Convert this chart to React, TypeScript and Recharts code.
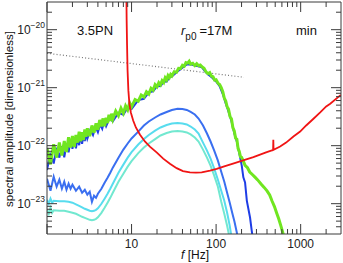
import React from "react";
import { Line, LineChart, XAxis, YAxis } from "recharts";

// frequencies [Hz] and spectral amplitudes
const GREEN_F = [
  1.0, 1.1, 1.2, 1.3, 1.4, 1.5, 1.6, 1.7, 1.8, 1.9, 2.0, 2.1, 2.2, 2.3, 2.4, 2.5, 2.6, 2.7, 2.8, 2.9, 3.0,
  3.2, 3.4, 3.6, 3.8, 4.0, 4.2, 4.4, 4.6, 4.8, 5.0, 5.2, 5.4, 5.6, 5.8, 6.0,
  6.5, 7, 7.5, 8, 8.5, 9, 9.5, 10,
  11, 12, 13, 14, 15, 16, 17, 18, 19, 20, 21, 22, 23, 24, 25, 26, 27, 28, 29, 30,
  32, 34, 36, 38, 40, 42, 44, 46, 48, 50, 53, 56, 59, 62, 65, 68,
  72, 76, 80, 84, 88, 92, 96, 100, 105, 110, 115, 120, 125, 130, 135, 140, 146, 152, 158, 164, 170, 176,
  182, 188, 194, 200, 210, 220, 235, 250, 270, 290, 310, 340, 370, 400, 430, 460, 490, 520, 550, 580, 610, 640,
];
const GREEN_A = [
  9.12e-23, 4.76e-23, 1.054e-22, 6.24e-23, 1.13e-22, 6.79e-23, 1.2e-22, 7.8e-23, 1.4e-22, 9.27e-23, 1.47e-22,
  9.46e-23, 1.53e-22, 1.13e-22, 1.74e-22, 1.19e-22, 1.71e-22, 1.25e-22, 1.91e-22, 1.43e-22, 1.99e-22,
  1.46e-22, 2.23e-22, 1.67e-22, 2.42e-22, 1.88e-22, 2.77e-22, 2.15e-22, 2.95e-22, 2.17e-22, 3.04e-22, 2.45e-22,
  3.42e-22, 2.68e-22, 3.56e-22, 2.86e-22,
  3.96e-22, 3.29e-22, 4.42e-22, 3.64e-22, 4.84e-22, 4.15e-22, 5.48e-22, 4.68e-22,
  6.24e-22, 5.83e-22, 7.46e-22, 6.89e-22, 8.51e-22, 7.76e-22, 9.75e-22, 9.04e-22, 1.125e-21, 1.035e-21,
  1.22e-21, 1.12e-21, 1.32e-21, 1.23e-21, 1.48e-21, 1.37e-21, 1.61e-21, 1.49e-21, 1.69e-21, 1.6e-21,
  1.89e-21, 1.85e-21, 2.16e-21, 2.14e-21, 2.43e-21, 2.34e-21, 2.7e-21, 2.65e-21, 2.85e-21, 2.54e-21, 2.63e-21,
  2.4e-21, 2.59e-21, 2.39e-21, 2.45e-21, 2.29e-21,
  2.16e-21, 1.87e-21, 1.74e-21, 1.82e-21, 1.58e-21, 1.54e-21, 1.35e-21, 1.37e-21, 1.2e-21, 1.135e-21, 1.0e-21,
  8.51e-22, 6.61e-22, 5.89e-22, 4.68e-22, 4.27e-22, 3.2e-22, 2.88e-22, 2.04e-22, 1.8e-22, 1.35e-22, 1.29e-22,
  8.91e-23, 7.94e-23, 6.46e-23, 6.31e-23, 5.41e-23, 4.57e-23, 4.17e-23, 3.52e-23, 3.16e-23, 2.84e-23, 2.57e-23,
  2.19e-23, 1.91e-23, 1.66e-23, 1.41e-23, 1.1e-23, 8.91e-24, 6.92e-24, 5.5e-24, 4.27e-24, 3.31e-24, 2.51e-24,
];

const DARK_F = [
  1.0, 1.1, 1.2, 1.3, 1.4, 1.5, 1.6, 1.7, 1.8, 1.9, 2.0, 2.1, 2.2, 2.3, 2.4, 2.5, 2.6, 2.7, 2.8, 2.9, 3.0,
  3.25, 3.5, 3.75, 4.0, 4.25, 4.5, 4.75, 5.0, 5.5, 6.0,
  7, 8, 9, 10,
  12, 14, 16, 18, 20, 22, 24, 26, 28, 30,
  35, 40, 45, 50, 56, 62, 68, 74, 80, 90, 100, 110, 120, 130, 140, 152, 164, 176, 188,
  201, 210, 220, 231, 252, 264, 274,
];
const DARK_A = [
  3.8e-23, 7.55e-23, 4.93e-23, 9.23e-23, 6.22e-23, 9.82e-23, 6.28e-23, 1.05e-22, 7.67e-23, 1.25e-22, 8.85e-23,
  1.31e-22, 9.02e-23, 1.36e-22, 1.02e-22, 1.5e-22, 1.08e-22, 1.54e-22, 1.2e-22, 1.68e-22, 1.32e-22,
  1.87e-22, 1.52e-22, 2.13e-22, 1.71e-22, 2.33e-22, 1.95e-22, 2.65e-22, 2.15e-22, 2.96e-22, 2.61e-22,
  3.69e-22, 3.4e-22, 4.55e-22, 4.27e-22,
  6.11e-22, 6.43e-22, 8.32e-22, 8.63e-22, 1.06e-21, 1.07e-21, 1.26e-21, 1.28e-21, 1.49e-21, 1.57e-21,
  1.91e-21, 2.21e-21, 2.52e-21, 2.54e-21, 2.4e-21, 2.33e-21, 2.24e-21, 1.91e-21, 1.7e-21, 1.48e-21, 1.28e-21,
  1.06e-21, 7.76e-22, 5.37e-22, 3.89e-22, 2.63e-22, 1.64e-22, 1.17e-22, 7.41e-23,
  4.53e-23, 2.84e-23, 2.33e-23, 1.12e-23, 5.77e-24, 3.4e-24, 2.28e-24,
];

const BLUE_F = [
  1.0, 1.1, 1.2, 1.3, 1.4, 1.5, 1.6, 1.7, 1.8, 1.9, 2.0, 2.2, 2.4, 2.6, 2.8, 3.0, 3.2, 3.4, 3.6, 3.8, 4.0,
  4.4, 4.8, 5.2, 5.6, 6.0, 7, 8, 9, 10, 12, 14, 16, 19, 22, 26, 30,
  35, 40, 45, 50, 56, 62, 70, 78, 86, 95, 105, 115, 125, 135, 145, 155, 165, 175, 180,
];
const BLUE_A = [
  2.7e-23, 1.67e-23, 2.92e-23, 1.96e-23, 2.59e-23, 1.81e-23, 2.39e-23, 1.74e-23, 2.21e-23, 1.81e-23, 2.12e-23,
  1.67e-23, 1.96e-23, 1.54e-23, 1.74e-23, 1.43e-23, 1.61e-23, 1.08e-23, 1.37e-23, 1.26e-23, 1.48e-23,
  1.81e-23, 2.3e-23, 2.81e-23, 3.42e-23, 4.18e-23, 6.22e-23, 8.56e-23, 1.09e-22, 1.33e-22,
  1.75e-22, 2.23e-22, 2.61e-22, 3.06e-22, 3.45e-22, 3.81e-22, 4.13e-22,
  4.33e-22, 4.3e-22, 4.13e-22, 3.81e-22, 3.45e-22, 2.94e-22, 2.23e-22, 1.62e-22, 1.18e-22, 8.23e-23,
  5.52e-23, 3.56e-23, 2.39e-23, 1.54e-23, 1.04e-23, 6.96e-24, 4.86e-24, 3.27e-24, 2.68e-24,
];

const CYAN_F = [
  1.0, 1.05, 1.1, 1.15, 1.2, 1.4, 1.6, 1.8, 2.0, 2.2, 2.4, 2.6, 2.8, 3.0, 3.2, 3.4, 3.6, 3.8, 4.0,
  4.4, 4.8, 5.2, 5.6, 6.0, 7, 8, 9, 10, 12, 14, 16, 19, 22, 26, 30,
  35, 40, 45, 50, 56, 62, 70, 78, 86, 95, 105, 115, 125, 135, 145, 152,
];
const CYAN_A = [
  1.17e-23, 9.96e-24, 1.22e-23, 1.04e-23, 1.12e-23, 1.1e-23, 1.1e-23, 1.08e-23, 1.04e-23, 9.76e-24, 9.2e-24,
  8.66e-24, 8.16e-24, 7.84e-24, 7.54e-24, 7.39e-24, 7.54e-24, 7.84e-24, 8.32e-24,
  9.96e-24, 1.22e-23, 1.48e-23, 1.81e-23, 2.21e-23, 3.42e-23, 4.71e-23, 6.22e-23, 7.75e-23,
  1.045e-22, 1.3e-22, 1.53e-22, 1.82e-22, 2.06e-22, 2.27e-22, 2.41e-22,
  2.46e-22, 2.41e-22, 2.32e-22, 2.14e-22, 1.9e-22, 1.62e-22, 1.13e-22, 8.23e-23, 5.98e-23, 4.02e-23,
  2.59e-23, 1.67e-23, 1.12e-23, 6.96e-24, 4.15e-24, 2.68e-24,
];

const AQUA_F = [
  1.0, 1.05, 1.1, 1.15, 1.2, 1.4, 1.6, 1.8, 2.0, 2.2, 2.4, 2.6, 2.8, 3.0, 3.2, 3.4, 3.6, 3.8, 4.0,
  4.4, 4.8, 5.2, 5.6, 6.0, 7, 8, 9, 10, 12, 14, 16, 19, 22, 26, 30,
  35, 40, 45, 50, 56, 62, 70, 78, 86, 95, 105, 115, 125, 135, 142, 150,
];
const AQUA_A = [
  7.84e-24, 6.69e-24, 8.49e-24, 6.96e-24, 7.69e-24, 7.54e-24, 7.54e-24, 7.24e-24, 6.96e-24, 6.69e-24, 6.3e-24,
  5.94e-24, 5.7e-24, 5.48e-24, 5.27e-24, 5.16e-24, 5.27e-24, 5.48e-24, 5.82e-24,
  6.96e-24, 8.49e-24, 1.04e-23, 1.26e-23, 1.54e-23, 2.39e-23, 3.29e-23, 4.35e-23, 5.42e-23,
  7.45e-23, 9.27e-23, 1.09e-22, 1.3e-22, 1.5e-22, 1.65e-22, 1.75e-22,
  1.79e-22, 1.75e-22, 1.69e-22, 1.56e-22, 1.38e-22, 1.18e-22, 8.56e-23, 6.22e-23, 4.53e-23, 3.04e-23,
  1.96e-23, 1.08e-23, 6.69e-24, 4.15e-24, 2.9e-24, 2.28e-24,
];

// detector noise curve
const NOISE_F = [
  8.68, 8.75, 8.85, 8.97, 9.17, 9.42, 9.81, 10.45, 11.25, 12.54, 14.38, 16.48, 19.94, 23.68, 28.43, 34.14,
  40.53, 49.07, 57.8, 67.5, 84.7, 101.6, 127.5, 158.6, 191.9, 232.3, 276, 331, 390, 466, 472, 475, 478,
  571.6, 673, 821.6, 986, 1162, 1418, 1702, 2005, 2236, 2938, 3000,
];
const NOISE_A = [
  4.8e-20, 1.46e-20, 5.4e-21, 1.99e-21, 8.98e-22, 5.35e-22, 3.74e-22, 2.72e-22, 2.06e-22, 1.56e-22, 1.18e-22,
  9.65e-23, 7.6e-23, 5.98e-23, 4.9e-23, 4.1e-23, 3.64e-23, 3.47e-23, 3.42e-23, 3.47e-23, 3.71e-23, 3.97e-23,
  4.44e-23, 4.9e-23, 5.35e-23, 5.87e-23, 6.35e-23, 7.01e-23, 7.69e-23, 8.39e-23, 8.43e-23, 1.26e-22, 8.5e-23,
  9.65e-23, 1.13e-22, 1.44e-22, 1.75e-22, 2.23e-22, 2.91e-22, 3.74e-22, 4.75e-22, 5.29e-22, 7.36e-22, 7.5e-22,
];

const DOTTED_F = [1, 214];
const DOTTED_A = [3.92e-21, 1.51e-21];

const X_DOMAIN = [1, 3000];
const Y_DOMAIN = [3e-24, 3e-20];
const X_DECADES = [1, 10, 100, 1000];
const Y_EXPONENTS = [-24, -23, -22, -21, -20];
const X_LABELED = [10, 100, 1000];
const Y_LABELED = [-23, -22, -21, -20];

const MANT = [1, 2, 3, 4, 5, 6, 7, 8, 9];
const xTicks = X_DECADES.flatMap((d) => MANT.map((m) => m * d)).filter((v) => v >= 1 && v < 2999);
const yTicks = Y_EXPONENTS.flatMap((e) => MANT.map((m) => m * Math.pow(10, e))).filter(
  (v) => v > 3.01e-24 && v < 2.99e-20
);

const pts = (fs: number[], as: number[]) => fs.map((f, i) => ({ f, a: as[i] }));

const AXIS = "#3a3a3a";
const FONT = "'Liberation Sans', Arial, sans-serif";

const isMajor = (v: number) => Math.abs(Math.log10(v) - Math.round(Math.log10(v))) < 1e-6;

function BottomTick({ x, y, payload }: any) {
  const v = payload.value;
  const major = isMajor(v);
  const lbl = X_LABELED.find((t) => Math.abs(t - v) < 1e-6);
  return (
    <g>
      <line x1={x} y1={y} x2={x} y2={y - (major ? 10 : 5)} stroke={AXIS} />
      {lbl !== undefined && (
        <text x={x} y={y + 13.5} textAnchor="middle" fontSize={12} fontFamily={FONT} fill="#222">
          {String(lbl)}
        </text>
      )}
    </g>
  );
}

function TopTick({ x, y, payload }: any) {
  const major = isMajor(payload.value);
  return <line x1={x} y1={y} x2={x} y2={y + (major ? 10 : 5)} stroke={AXIS} />;
}

function LeftTick({ x, y, payload }: any) {
  const v = payload.value;
  const major = isMajor(v);
  const e = Math.round(Math.log10(v));
  const show = major && Y_LABELED.includes(e);
  return (
    <g>
      <line x1={x} y1={y} x2={x + (major ? 10 : 5)} y2={y} stroke={AXIS} />
      {show && (
        <text x={x - 2} y={y + 4.5} textAnchor="end" fontSize={12} fontFamily={FONT} fill="#222">
          10
          <tspan fontSize={8.5} dy={-6}>
            {"\u2212" + Math.abs(e)}
          </tspan>
        </text>
      )}
    </g>
  );
}

function RightTick({ x, y, payload }: any) {
  const major = isMajor(payload.value);
  return <line x1={x} y1={y} x2={x - (major ? 10 : 5)} y2={y} stroke={AXIS} />;
}

export default function App() {
  return (
    <div style={{ position: "absolute", left: 0, top: 0, width: 343, height: 263, background: "#fff", fontFamily: FONT }}>
      <LineChart width={343} height={263} margin={{ top: 0, right: 0, bottom: 0, left: 0 }}>
        <XAxis
          dataKey="f"
          type="number"
          scale="log"
          domain={X_DOMAIN}
          allowDataOverflow
          ticks={xTicks}
          interval={0}
          tickSize={0}
          tickMargin={0}
          height={29}
          axisLine={{ stroke: AXIS }}
          tickLine={false}
          tick={<BottomTick />}
        />
        <XAxis
          xAxisId="top"
          orientation="top"
          dataKey="f"
          type="number"
          scale="log"
          domain={X_DOMAIN}
          allowDataOverflow
          ticks={xTicks}
          interval={0}
          tickSize={0}
          tickMargin={0}
          height={2}
          axisLine={{ stroke: AXIS }}
          tickLine={false}
          tick={<TopTick />}
        />
        <YAxis
          dataKey="a"
          type="number"
          scale="log"
          domain={Y_DOMAIN}
          allowDataOverflow
          ticks={yTicks}
          interval={0}
          tickSize={0}
          tickMargin={0}
          width={47}
          axisLine={{ stroke: AXIS }}
          tickLine={false}
          tick={<LeftTick />}
        />
        <YAxis
          yAxisId="right"
          orientation="right"
          dataKey="a"
          type="number"
          scale="log"
          domain={Y_DOMAIN}
          allowDataOverflow
          ticks={yTicks}
          interval={0}
          tickSize={0}
          tickMargin={0}
          width={2}
          axisLine={{ stroke: AXIS }}
          tickLine={false}
          tick={<RightTick />}
        />
        <Line data={pts(DOTTED_F, DOTTED_A)} dataKey="a" stroke="#777" strokeWidth={1.2} strokeDasharray="1 2.2" dot={false} activeDot={false} isAnimationActive={false} />
        <Line data={pts(AQUA_F, AQUA_A)} dataKey="a" stroke="#72e8d0" strokeWidth={2} dot={false} activeDot={false} isAnimationActive={false} />
        <Line data={pts(CYAN_F, CYAN_A)} dataKey="a" stroke="#58dcee" strokeWidth={2} dot={false} activeDot={false} isAnimationActive={false} />
        <Line data={pts(BLUE_F, BLUE_A)} dataKey="a" stroke="#3a6ff0" strokeWidth={2} dot={false} activeDot={false} isAnimationActive={false} />
        <Line data={pts(DARK_F, DARK_A)} dataKey="a" stroke="#1e3de6" strokeWidth={2} dot={false} activeDot={false} isAnimationActive={false} />
        <Line data={pts(GREEN_F, GREEN_A)} dataKey="a" stroke="#70e620" strokeWidth={3} dot={false} activeDot={false} isAnimationActive={false} />
        <Line data={pts(NOISE_F, NOISE_A)} dataKey="a" stroke="#f01414" strokeWidth={1.8} dot={false} activeDot={false} isAnimationActive={false} />
      </LineChart>
      <svg width={343} height={263} style={{ position: "absolute", left: 0, top: 0, pointerEvents: "none" }}>
        <g fontFamily={FONT} fill="#111">
          <text x={95} y={35} textAnchor="middle" fontSize={13}>3.5PN</text>
          <text x={181} y={35} fontSize={13}>
            <tspan fontStyle="italic">r</tspan>
            <tspan fontSize={10} dy={5}>p0</tspan>
            <tspan dy={-5} dx={3}>=17M</tspan>
          </text>
          <text x={296} y={35} fontSize={13}>min</text>
          <text x={195} y={259} textAnchor="middle" fontSize={12}>
            <tspan fontStyle="italic">f</tspan> [Hz]
          </text>
          <text x={13} y={119} textAnchor="middle" fontSize={11.5} transform="rotate(-90, 13, 119)">
            spectral amplitude [dimensionless]
          </text>
        </g>
      </svg>
    </div>
  );
}
